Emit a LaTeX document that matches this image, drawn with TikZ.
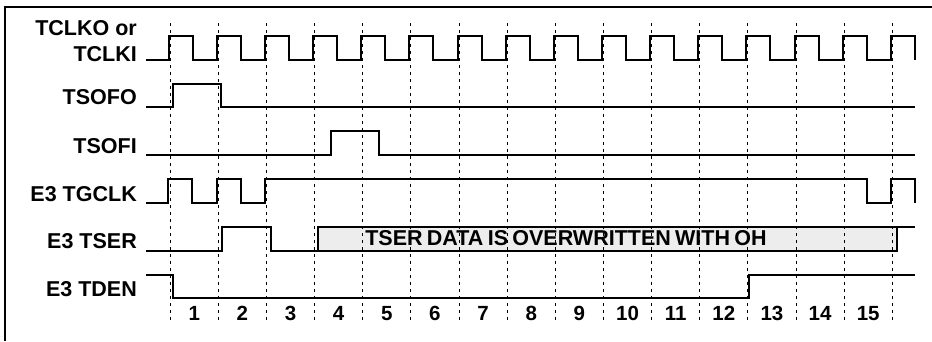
\documentclass[tikz,border=0pt]{standalone}
\usepackage{fontspec}
\setmainfont{Liberation Sans}
\newcommand{\tightspaces}{\spaceskip=0.2em\relax}
\begin{document}
\begin{tikzpicture}[x=1pt,y=-1pt,
  sig/.style={line width=2pt,line join=miter,line cap=butt},
  grid/.style={line width=0.9pt,dash pattern=on 3pt off 4pt},
  lbl/.style={anchor=base east,inner sep=0pt,font=\fontsize{21.5}{24}\selectfont\bfseries},
  num/.style={anchor=base,inner sep=0pt,font=\fontsize{20.5}{22}\selectfont\bfseries},
  boxtext/.style={anchor=base,inner sep=0pt,font=\fontsize{21.5}{24}\selectfont\bfseries}]
\definecolor{boxgray}{HTML}{EDEDED}
\useasboundingbox (0,0) rectangle (932,341);
% frame
\draw[line width=2pt] (5,341) -- (5,7) -- (932,7);
% overwritten box fill
\fill[boxgray] (318,227.3) rectangle (897,250.5);
% grid lines
\foreach \k in {0,...,15}{
  \draw[grid] ({170.2+48.14*\k},23) -- ({170.2+48.14*\k},322);
}
% labels
\node[lbl] (l0a) at (137,35) {TCLKO or};
\node[lbl] (l0b) at (137,61) {TCLKI};
\node[lbl] (l1) at (137,104) {TSOFO};
\node[lbl] (l2) at (137,153.5) {TSOFI};
\node[lbl] (l3) at (137,201.5) {E3 TGCLK};
\node[lbl] (l4) at (137,248.5) {E3 TSER};
\node[lbl] (l5) at (137,296.8) {E3 TDEN};
% TCLK
\draw[sig] (146,60) \foreach \k in {0,...,15}{
  -- ({168.7+48.14*\k},60) -- ({168.7+48.14*\k},36) -- ({192.7+48.14*\k},36) -- ({192.7+48.14*\k},60)};
% TSOFO
\draw[sig] (146,107) -- (172.7,107) -- (172.7,84) -- (220.7,84) -- (220.7,107) -- (915,107);
% TSOFI
\draw[sig] (146,155) -- (330.7,155) -- (330.7,131) -- (379,131) -- (379,155) -- (915,155);
% E3 TGCLK
\draw[sig] (146,203.3) -- (167.7,203.3) -- (167.7,179.3) -- (192.3,179.3) -- (192.3,203.3)
  -- (216.7,203.3) -- (216.7,179.3) -- (240.7,179.3) -- (240.7,203.3)
  -- (265,203.3) -- (265,179.3) -- (867.3,179.3) -- (867.3,203.3)
  -- (890.7,203.3) -- (890.7,179.3) -- (915,179.3) -- (915,203.3);
% E3 TSER
\draw[sig] (146,250.5) -- (221.7,250.5) -- (221.7,227.3) -- (270.7,227.3) -- (270.7,250.5)
  -- (318,250.5) -- (318,227.3) -- (915,227.3);
\draw[sig] (318,250.5) -- (897,250.5) -- (897,227.3);
\node[boxtext] (ow) at (566,245.5) {\tightspaces TSER DATA IS OVERWRITTEN WITH OH};
% E3 TDEN
\draw[sig] (146,275) -- (172.7,275) -- (172.7,298.3) -- (748.7,298.3) -- (748.7,275) -- (915,275);
% cycle numbers
\foreach \k in {1,...,15}{
  \node[num] (n\k) at ({146.1+48.14*\k},320) {\k};
}
\end{tikzpicture}
\end{document}
